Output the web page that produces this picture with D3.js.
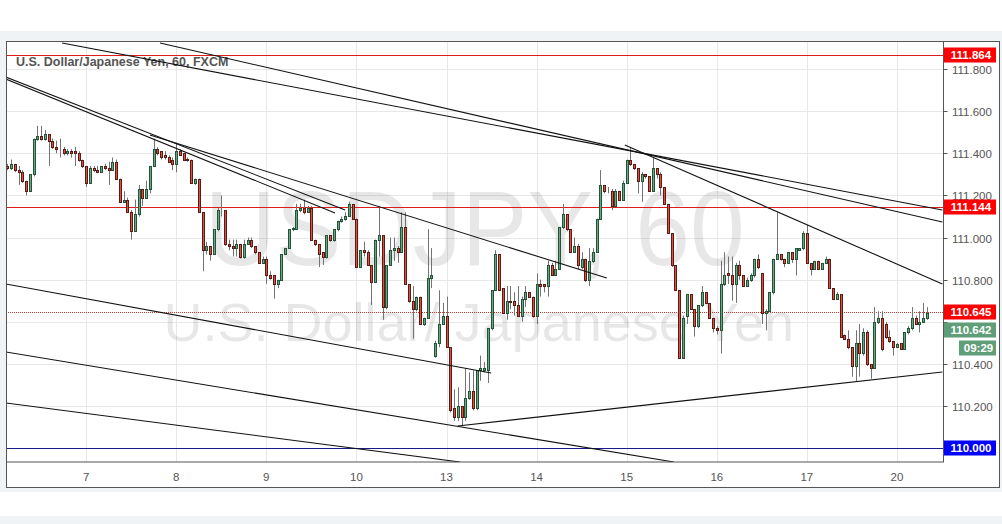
<!DOCTYPE html>
<html><head><meta charset="utf-8">
<script src="https://cdn.jsdelivr.net/npm/d3@7"></script>
<style>body{margin:0;background:#fff;} svg{display:block;font-family:"Liberation Sans",Arial,sans-serif;}</style>
</head><body><svg id="c" width="1002" height="524"></svg>
<script>
// ---------- DATA ----------
const chartTitle = "U.S. Dollar/Japanese Yen, 60, FXCM";
const watermarkMain = "USDJPY, 60";
const watermarkSub = "U.S. Dollar/ Japanese Yen";
const dayLabels = ["7","8","9","10","13","14","15","16","17","20"];
const dayStartIndex = [21,45,69,93,117,141,165,189,213,237];
const priceTicks = [111.8,111.6,111.4,111.2,111.0,110.8,110.6,110.4,110.2,110.0];

const opens = [111.34,111.33,111.35,111.32,111.31,111.27,111.22,111.30,111.47,111.48,111.47,111.49,111.46,111.43,111.42,111.42,111.40,111.41,111.41,111.40,
111.37,111.34,111.26,111.33,111.32,111.31,111.34,111.33,111.32,111.36,111.28,111.17,111.18,111.12,111.03,111.11,111.23,111.19,111.23,111.34,
111.42,111.41,111.39,111.38,111.37,111.35,111.41,111.40,111.372,111.37,111.26,111.28,111.12,110.94,110.96,110.92,111.04,111.13,111.13,110.97,
110.96,110.95,110.97,110.91,110.97,110.99,110.96,110.93,110.88,110.90,110.82,110.82,110.78,110.80,110.92,110.95,111.04,111.04,111.13,111.14,
111.12,111.14,110.99,110.97,110.93,110.91,111.01,110.99,111.04,111.08,111.09,111.10,111.16,111.09,110.86,110.94,110.93,110.87,110.79,110.99,
111.01,110.67,110.87,110.94,110.95,110.93,111.05,110.78,110.70,110.66,110.72,110.59,110.62,110.81,110.44,110.50,110.59,110.63,110.48,110.19,
110.15,110.20,110.15,110.24,110.27,110.19,110.37,110.37,110.37,110.57,110.75,110.92,110.76,110.64,110.70,110.70,110.68,110.63,110.71,110.74,
110.72,110.63,110.78,110.78,110.77,110.87,110.82,110.85,111.05,111.11,111.04,110.93,110.96,110.86,110.90,110.80,110.89,110.93,111.09,111.25,
111.22,111.22,111.15,111.22,111.18,111.26,111.37,111.35,111.33,111.27,111.30,111.29,111.22,111.33,111.30,111.24,111.16,111.02,110.87,110.75,
110.43,110.63,110.73,110.66,110.58,110.68,110.74,110.69,110.62,110.57,110.56,110.78,110.83,110.82,110.78,110.87,110.82,110.77,110.80,110.82,
110.90,110.83,110.64,110.65,110.74,110.90,110.92,110.90,110.88,110.93,110.90,110.94,110.95,111.02,110.88,110.85,110.89,110.85,110.88,110.90,
110.76,110.71,110.73,110.54,110.52,110.48,110.39,110.50,110.45,110.55,110.40,110.38,110.60,110.62,110.59,110.53,110.51,110.482,110.50,110.47,
110.55,110.57,110.62,110.59,110.60,110.62];
const highs = [111.35,111.37,111.35,111.34,111.32,111.27,111.30,111.47,111.53,111.53,111.51,111.49,111.47,111.46,111.47,111.43,111.42,111.42,111.43,111.41,
111.37,111.34,111.34,111.34,111.34,111.34,111.35,111.36,111.38,111.37,111.28,111.22,111.19,111.13,111.18,111.25,111.23,111.27,111.34,111.47,
111.43,111.41,111.41,111.39,111.38,111.45,111.42,111.40,111.38,111.37,111.28,111.28,111.12,110.98,110.96,111.04,111.14,111.20,111.13,110.99,
110.99,110.99,110.97,110.99,111.00,111.00,110.96,110.93,110.91,110.91,110.84,110.82,110.80,110.92,110.95,111.04,111.05,111.16,111.16,111.18,
111.15,111.15,110.99,110.97,110.93,111.01,111.01,111.04,111.08,111.10,111.12,111.17,111.16,111.09,110.94,110.98,110.94,110.87,110.99,111.15,
111.01,110.87,111.00,111.00,110.96,111.12,111.12,110.78,110.77,110.72,110.72,110.62,111.04,110.95,110.51,110.75,110.69,110.72,110.48,110.28,
110.29,110.20,110.38,110.36,110.37,110.37,110.44,110.41,110.57,110.75,110.94,110.92,110.76,110.77,110.77,110.74,110.77,110.72,110.77,110.74,
110.72,110.83,110.80,110.78,110.89,110.88,110.89,111.05,111.16,111.11,111.04,111.00,110.97,110.93,110.90,110.95,110.95,111.09,111.32,111.25,
111.24,111.23,111.23,111.22,111.27,111.37,111.43,111.35,111.33,111.31,111.30,111.29,111.38,111.33,111.31,111.24,111.16,111.02,110.87,110.75,
110.63,110.73,110.73,110.66,110.68,110.77,110.74,110.69,110.62,110.58,110.89,110.93,110.91,110.91,110.88,110.89,110.82,110.81,110.83,110.90,
110.92,110.83,110.66,110.74,110.90,111.12,110.92,110.90,110.93,110.93,110.95,110.95,111.03,111.06,110.88,110.89,110.89,110.88,110.91,110.90,
110.76,110.74,110.73,110.54,110.56,110.48,110.56,110.59,110.57,110.56,110.40,110.67,110.65,110.65,110.60,110.56,110.51,110.50,110.50,110.55,
110.58,110.67,110.63,110.65,110.69,110.67];
const lows = [111.32,111.32,111.31,111.25,111.26,111.20,111.22,111.29,111.46,111.46,111.46,111.34,111.42,111.40,111.38,111.39,111.39,111.38,111.34,111.36,
111.33,111.24,111.26,111.31,111.31,111.31,111.32,111.25,111.32,111.28,111.17,111.17,111.12,110.99,111.03,111.10,111.15,111.19,111.21,111.34,
111.39,111.37,111.37,111.36,111.32,111.31,111.39,111.37,111.36,111.26,111.25,111.12,110.84,110.92,110.89,110.92,111.03,111.10,110.96,110.94,
110.91,110.91,110.90,110.90,110.97,110.95,110.92,110.88,110.88,110.78,110.80,110.71,110.76,110.80,110.92,110.95,111.03,111.04,111.12,111.11,
111.12,110.99,110.96,110.86,110.87,110.90,110.98,110.98,111.03,111.07,111.08,111.10,111.09,110.86,110.86,110.91,110.87,110.68,110.79,110.91,
110.61,110.66,110.87,110.89,110.88,110.93,110.78,110.69,110.52,110.65,110.59,110.58,110.62,110.76,110.43,110.48,110.59,110.48,110.17,110.13,
110.13,110.11,110.13,110.23,110.18,110.18,110.32,110.36,110.31,110.56,110.75,110.75,110.64,110.61,110.66,110.63,110.63,110.60,110.67,110.72,
110.62,110.59,110.72,110.74,110.72,110.82,110.82,110.85,111.04,111.03,110.93,110.93,110.85,110.85,110.79,110.77,110.88,110.93,111.09,111.21,
111.21,111.13,111.15,111.18,111.18,111.26,111.34,111.32,111.21,111.17,111.28,111.22,111.22,111.28,111.20,111.16,111.02,110.86,110.75,110.43,
110.43,110.59,110.66,110.53,110.57,110.67,110.69,110.62,110.55,110.54,110.45,110.77,110.78,110.70,110.69,110.80,110.77,110.77,110.79,110.81,
110.85,110.59,110.56,110.65,110.73,110.90,110.89,110.86,110.88,110.88,110.82,110.94,110.94,110.88,110.82,110.85,110.85,110.85,110.88,110.76,
110.71,110.71,110.53,110.52,110.47,110.34,110.32,110.34,110.44,110.39,110.33,110.38,110.59,110.46,110.52,110.50,110.44,110.48,110.47,110.47,
110.54,110.56,110.59,110.55,110.60,110.61];
const closes = [111.33,111.35,111.32,111.31,111.27,111.22,111.30,111.47,111.48,111.47,111.49,111.46,111.43,111.42,111.42,111.40,111.41,111.40,111.40,111.37,
111.34,111.26,111.33,111.32,111.31,111.34,111.33,111.32,111.36,111.28,111.17,111.18,111.12,111.03,111.11,111.23,111.19,111.23,111.34,111.42,
111.40,111.38,111.38,111.36,111.35,111.41,111.39,111.37,111.368,111.26,111.28,111.12,110.94,110.96,110.92,111.04,111.13,111.13,110.97,110.96,
110.95,110.97,110.91,110.97,110.99,110.96,110.93,110.88,110.90,110.82,110.81,110.78,110.80,110.92,110.95,111.04,111.045,111.13,111.14,111.12,
111.14,110.99,110.97,110.92,110.91,111.01,110.99,111.04,111.08,111.09,111.10,111.16,111.09,110.86,110.94,110.93,110.87,110.79,110.99,111.01,
110.67,110.87,110.94,110.95,110.93,111.05,110.78,110.70,110.66,110.72,110.59,110.62,110.81,110.82,110.50,110.59,110.63,110.48,110.18,110.15,
110.20,110.15,110.24,110.27,110.19,110.37,110.38,110.38,110.57,110.75,110.92,110.75,110.64,110.70,110.695,110.68,110.63,110.71,110.74,110.72,
110.63,110.78,110.77,110.77,110.87,110.82,110.85,111.05,111.11,111.04,110.93,110.96,110.87,110.90,110.80,110.89,110.93,111.09,111.25,111.22,
111.221,111.15,111.22,111.18,111.26,111.37,111.35,111.33,111.27,111.30,111.29,111.22,111.33,111.30,111.24,111.16,111.02,110.87,110.75,110.43,
110.62,110.73,110.66,110.58,110.68,110.74,110.69,110.62,110.57,110.56,110.78,110.82,110.82,110.78,110.87,110.82,110.77,110.80,110.82,110.90,
110.86,110.64,110.65,110.74,110.90,110.92,110.90,110.88,110.93,110.90,110.95,110.95,111.02,110.88,110.85,110.89,110.85,110.88,110.90,110.76,
110.71,110.73,110.53,110.52,110.48,110.39,110.50,110.45,110.55,110.40,110.38,110.60,110.62,110.47,110.53,110.51,110.48,110.495,110.47,110.55,
110.57,110.62,110.59,110.60,110.62,110.642];

// horizontal levels: price, colour, label colour
const levelPrices = [111.864, 111.144, 110.000];
const levelColors = ["#dd1c1c", "#dd1c1c", "#1a1a8c"];
const levelLabelColors = ["#ff0000", "#ff0000", "#0000ff"];
const lastPriceDotted = 110.645;
const bidPrice = 110.642;
const countdownText = "09:29";

// trend lines: [startIndex, startPrice, endIndex, endPrice]
const trendLines = [
  [14.6, 111.923, 249.1, 111.131],
  [40.7, 111.923, 249.1, 111.074],
  [164.5, 111.439, 249.1, 110.780],
  [-0.4, 111.762, 90.0, 111.131],
  [-0.4, 111.752, 87.3, 111.117],
  [38.0, 111.487, 159.7, 110.808],
  [-0.4, 110.780, 128.9, 110.357],
  [-0.4, 110.457, 177.6, 109.935],
  [-0.4, 110.215, 120.6, 109.935],
  [120.0, 110.106, 249.1, 110.362]
];

// ---------- LAYOUT ----------
const svg = d3.select("#c");
const P = {left: 6, right: 943.5, top: 42, bottom: 462};
const x = d3.scaleLinear().domain([0, 245]).range([7.3, 927.0]);
const y = d3.scaleLinear().domain([109.935, 111.928]).range([P.bottom, P.top]);

// page backgrounds
svg.append("rect").attr("x",0).attr("y",0).attr("width",1002).attr("height",524).attr("fill","#fff");
svg.append("rect").attr("x",0).attr("y",31).attr("width",1002).attr("height",461).attr("fill","#f0f3f5");
svg.append("rect").attr("x",0).attr("y",516).attr("width",1002).attr("height",8).attr("fill","#f0f3f5");
svg.append("rect").attr("x",6.5).attr("y",41.5).attr("width",993).attr("height",446).attr("fill","#fff").attr("stroke","#555").attr("stroke-width",1);

const defs = svg.append("defs");
defs.append("clipPath").attr("id","plotclip").append("rect")
  .attr("x",P.left).attr("y",P.top).attr("width",P.right-P.left).attr("height",P.bottom-P.top);

// grid
const grid = svg.append("g").attr("clip-path","url(#plotclip)");
grid.selectAll(".hg").data(priceTicks).enter().append("line")
  .attr("x1",P.left).attr("x2",P.right)
  .attr("y1",d=>Math.round(y(d))+0.5).attr("y2",d=>Math.round(y(d))+0.5)
  .attr("stroke","#e8e8e8").attr("stroke-width",1);
grid.selectAll(".vg").data(dayStartIndex).enter().append("line")
  .attr("y1",P.top).attr("y2",P.bottom)
  .attr("x1",d=>Math.round(x(d))+0.5).attr("x2",d=>Math.round(x(d))+0.5)
  .attr("stroke","#e8e8e8").attr("stroke-width",1);

// watermarks
const cx = (P.left + P.right) / 2;
svg.append("text").attr("x",cx).attr("y",265).attr("text-anchor","middle")
  .attr("font-size",106).attr("fill","#000").attr("fill-opacity",0.095)
  .attr("textLength",540).attr("lengthAdjust","spacingAndGlyphs")
  .text(watermarkMain);
svg.append("text").attr("x",cx+4).attr("y",341).attr("text-anchor","middle")
  .attr("font-size",54).attr("fill","#000").attr("fill-opacity",0.095)
  .text(watermarkSub);

// title
svg.append("text").attr("x",16).attr("y",66).attr("font-size",12.5).attr("font-weight","bold")
  .attr("fill","#555").text(chartTitle);

// horizontal levels
const lv = svg.append("g").attr("clip-path","url(#plotclip)");
levelPrices.forEach((p,k)=>{
  lv.append("line").attr("x1",P.left).attr("x2",P.right)
    .attr("y1",Math.round(y(p))+0.5).attr("y2",Math.round(y(p))+0.5)
    .attr("stroke",levelColors[k]).attr("stroke-width",1);
});
lv.append("line").attr("x1",P.left).attr("x2",P.right)
  .attr("y1",Math.round(y(lastPriceDotted))+0.5).attr("y2",Math.round(y(lastPriceDotted))+0.5)
  .attr("stroke","#c0392b").attr("stroke-width",1).attr("stroke-dasharray","1,1");

// candles
const data = d3.range(opens.length).map(i=>({i, o:opens[i], h:highs[i], l:lows[i], c:closes[i]}));
const cg = svg.append("g").attr("clip-path","url(#plotclip)");
data.forEach(d=>{
  const px = Math.round(x(d.i));
  const up = d.c > d.o;
  cg.append("line").attr("x1",px+0.5).attr("x2",px+0.5)
    .attr("y1",y(d.h)).attr("y2",y(d.l))
    .attr("stroke","#737375").attr("stroke-width",1);
  const yt = Math.round(y(Math.max(d.o,d.c)))+0.5;
  const yb = Math.round(y(Math.min(d.o,d.c)))+0.5;
  cg.append("rect").attr("x",px-0.5).attr("width",2)
    .attr("y",yt).attr("height",Math.max(yb-yt,0))
    .attr("fill",up?"#6ba583":"#d75442")
    .attr("stroke",up?"#225437":"#5b1a13").attr("stroke-width",1);
});

// trend lines
const tg = svg.append("g").attr("clip-path","url(#plotclip)");
tg.selectAll(".tl").data(trendLines).enter().append("line")
  .attr("x1",d=>x(d[0])).attr("y1",d=>y(d[1]))
  .attr("x2",d=>x(d[2])).attr("y2",d=>y(d[3]))
  .attr("stroke","#111").attr("stroke-width",1.1);

// plot border
svg.append("rect").attr("x",P.left+0.5).attr("y",P.top-0.5).attr("width",P.right-P.left-0.5).attr("height",P.bottom-P.top+0.5)
  .attr("fill","none").attr("stroke","#555").attr("stroke-width",1);

// price axis (labels hidden where a price box covers them)
const boxPrices = levelPrices.concat([lastPriceDotted, bidPrice]);
const ax = svg.append("g");
priceTicks.forEach(p=>{
  const yy = Math.round(y(p))+0.5;
  ax.append("line").attr("x1",P.right).attr("x2",P.right+4).attr("y1",yy).attr("y2",yy).attr("stroke","#555");
  const covered = boxPrices.some(b => Math.abs(y(b) - y(p)) < 7.5) || (y(p) > y(bidPrice) && y(p) < y(bidPrice) + 44);
  if (!covered) {
    ax.append("text").attr("x",952).attr("y",yy+4).attr("font-size",11.5).attr("fill","#555").text(d3.format(".3f")(p));
  }
});

// x axis labels
dayStartIndex.forEach((di,k)=>{
  svg.append("text").attr("x",x(di)).attr("y",481).attr("text-anchor","middle")
    .attr("font-size",11.5).attr("fill","#555").text(dayLabels[k]);
});

// price labels (boxes)
function box(p, col, txt, x0, dy){
  const yy = y(p) + (dy||0);
  ax.append("rect").attr("x",x0).attr("y",Math.round(yy)-7.5).attr("width",996-x0).attr("height",15).attr("fill",col);
  ax.append("text").attr("x",(x0+996)/2+1).attr("y",Math.round(yy)+4).attr("text-anchor","middle")
    .attr("font-size",11.5).attr("font-weight","bold").attr("fill","#fff").text(txt);
}
levelPrices.forEach((p,k)=>box(p, levelLabelColors[k], d3.format(".3f")(p), 944));
box(lastPriceDotted, "#ff0000", d3.format(".3f")(lastPriceDotted), 944, 0);
box(bidPrice, "#5f9e79", d3.format(".3f")(bidPrice), 944, 17);
box(bidPrice, "#5f9e79", countdownText, 959, 35);
</script></body></html>
